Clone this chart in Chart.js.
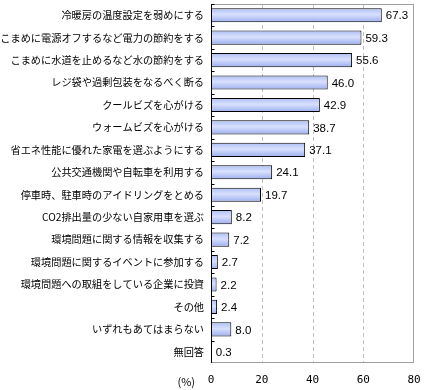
<!DOCTYPE html>
<html>
<head>
<meta charset="utf-8">
<script src="https://cdn.jsdelivr.net/npm/chart.js@4"></script>
<style>
    html, body { margin: 0; padding: 0; background: #fff; }
    #wrap { width: 425px; height: 390px; }
</style>
</head>
<body>
<div id="wrap"><canvas id="ecoChart" width="425" height="390"></canvas></div>
<script>
/* ====================================
   DATA
==================================== */

const categories = [
    "冷暖房の温度設定を弱めにする",
    "こまめに電源オフするなど電力の節約をする",
    "こまめに水道を止めるなど水の節約をする",
    "レジ袋や過剰包装をなるべく断る",
    "クールビズを心がける",
    "ウォームビズを心がける",
    "省エネ性能に優れた家電を選ぶようにする",
    "公共交通機関や自転車を利用する",
    "停車時、駐車時のアイドリングをとめる",
    "CO2排出量の少ない自家用車を選ぶ",
    "環境問題に関する情報を収集する",
    "環境問題に関するイベントに参加する",
    "環境問題への取組をしている企業に投資",
    "その他",
    "いずれもあてはまらない",
    "無回答"
];

const percents = [67.3, 59.3, 55.6, 46.0, 42.9, 38.7, 37.1, 24.1, 19.7, 8.2, 7.2, 2.7, 2.2, 2.4, 8.0, 0.3];

const xTicks = [0, 20, 40, 60, 80];

/* ====================================
   HELPERS
==================================== */

function barGradient(ctx) {

    const chart = ctx.chart;
    const y = chart.scales.y;

    if (!chart.chartArea || !y) return "#c4d0f8";

    const c = y.getPixelForValue(ctx.dataIndex);
    const g = chart.ctx.createLinearGradient(0, c - 7, 0, c + 7);

    g.addColorStop(0, "#aebff4");
    g.addColorStop(0.45, "#d8e0fd");
    g.addColorStop(1, "#9caeee");

    return g;
}

// dashed vertical grid lines
const gridPlugin = {
    id: "dashGrid",
    beforeDatasetsDraw(chart) {

        const { ctx, chartArea: a, scales: { x } } = chart;

        ctx.save();
        ctx.strokeStyle = "#c0c0c0";
        ctx.lineWidth = 1;
        ctx.setLineDash([4, 3]);
        ctx.beginPath();
        xTicks.slice(1, -1).forEach(v => {
            const px = Math.round(x.getPixelForValue(v)) + 0.5;
            ctx.moveTo(px, a.top);
            ctx.lineTo(px, a.bottom);
        });
        ctx.stroke();
        ctx.restore();
    }
};

// frame, inner ticks, value labels, "(%)"
const decorPlugin = {
    id: "decor",
    afterDatasetsDraw(chart) {

        const { ctx, chartArea: a, scales: { x, y } } = chart;

        ctx.save();

        // gray frame
        ctx.strokeStyle = "#a0a0a0";
        ctx.lineWidth = 1;
        ctx.setLineDash([]);
        ctx.strokeRect(Math.round(a.left) + 0.5, Math.round(a.top) + 0.5,
            Math.round(a.right - a.left) - 1, Math.round(a.bottom - a.top) - 1);

        // black left axis + tick marks at category boundaries
        ctx.strokeStyle = "#000";
        ctx.beginPath();
        const lx = Math.round(a.left) + 0.5;
        const step = y.getPixelForValue(1) - y.getPixelForValue(0);
        ctx.moveTo(lx, a.top);
        ctx.lineTo(lx, a.bottom);
        for (let i = 0; i < categories.length; i++) {
            const b = Math.round(y.getPixelForValue(i) - step / 2) + 0.5;
            ctx.moveTo(lx, b);
            ctx.lineTo(lx + 3, b);
        }
        ctx.stroke();

        // value labels
        ctx.fillStyle = "#000";
        ctx.font = "11.5px 'Liberation Sans', Arial, sans-serif";
        ctx.textAlign = "left";
        ctx.textBaseline = "middle";
        percents.forEach((v, i) => {
            ctx.fillText(v.toFixed(1), x.getPixelForValue(v) + 4, y.getPixelForValue(i) + 1);
        });

        // unit label
        ctx.textAlign = "right";
        ctx.font = "11px 'Noto Sans CJK JP', sans-serif";
        ctx.fillText("(%)", a.left - 16, 382);

        ctx.restore();
    }
};

/* ====================================
   CHART
==================================== */

new Chart(document.getElementById("ecoChart"), {

    type: "bar",

    data: {
        labels: categories,
        datasets: [{
            data: percents,
            backgroundColor: barGradient,
            borderColor: "#000",
            borderWidth: 1,
            borderSkipped: false,
            categoryPercentage: 1,
            barPercentage: 0.63
        }]
    },

    options: {
        indexAxis: "y",
        responsive: false,
        animation: false,
        layout: {
            padding: { top: 4, right: 11, left: 0, bottom: 0 }
        },
        plugins: {
            legend: { display: false },
            tooltip: { enabled: false }
        },
        scales: {
            x: {
                min: 0,
                max: 80,
                afterBuildTicks(scale) {
                    scale.ticks = xTicks.map(v => ({ value: v }));
                },
                afterFit(scale) {
                    scale.height = 27;
                    scale.paddingLeft = 0;
                    scale.paddingRight = 0;
                },
                border: { display: false },
                grid: { display: false, drawTicks: false },
                ticks: {
                    padding: 11,
                    color: "#000",
                    font: { family: "'DejaVu Sans Mono', monospace", size: 11 }
                }
            },
            y: {
                afterFit(scale) {
                    scale.width = 211;
                    scale.paddingTop = 0;
                    scale.paddingBottom = 0;
                },
                border: { display: false },
                grid: { display: false, drawTicks: false },
                ticks: {
                    padding: 7,
                    color: "#000",
                    autoSkip: false,
                    font: { family: "'Noto Sans CJK JP', sans-serif", size: 10.2 }
                }
            }
        }
    },

    plugins: [gridPlugin, decorPlugin]

});
</script>
</body>
</html>
